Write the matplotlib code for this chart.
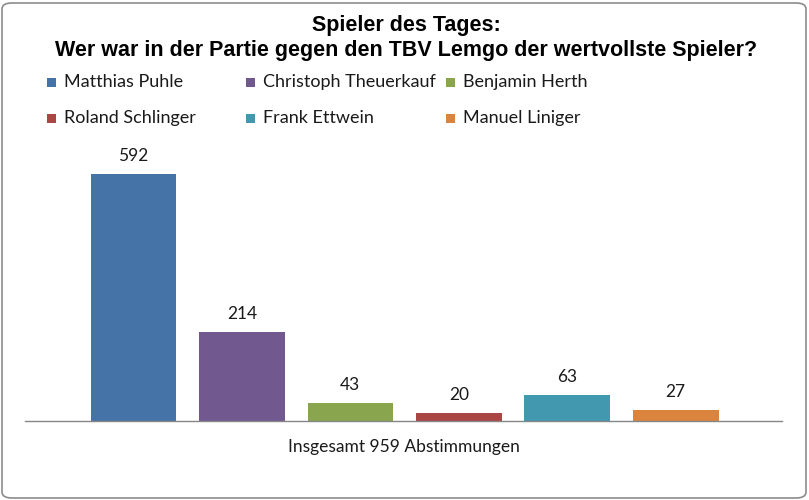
import matplotlib
matplotlib.use('Agg')
import matplotlib.pyplot as plt
from matplotlib.patches import FancyBboxPatch, Rectangle

# data
spieler = ['Matthias Puhle', 'Christoph Theuerkauf', 'Benjamin Herth',
           'Roland Schlinger', 'Frank Ettwein', 'Manuel Liniger']
stimmen = [592, 214, 43, 20, 63, 27]
farben = ['#4572A7', '#71588F', '#89A54E', '#AA4643', '#4198AF', '#DB843D']
titel = 'Spieler des Tages:\nWer war in der Partie gegen den TBV Lemgo der wertvollste Spieler?'
x_label = 'Insgesamt 959 Abstimmungen'

W, H = 809, 500
fig = plt.figure(figsize=(W / 100, H / 100), dpi=100)

# rounded grey frame like the excel chart area
frame = FancyBboxPatch((2 / W, 2 / H), (W - 5) / W, (H - 5) / H,
                       boxstyle='round,pad=0,rounding_size=0.012',
                       transform=fig.transFigure, facecolor='none',
                       edgecolor='#8c8c8c', linewidth=1.2, zorder=5)
fig.patches.append(frame)

# axes in pixel coordinates: left 25, right 782, baseline 421
ax_l, ax_r, ax_b, ax_t = 25, 782, 421, 150
ax = fig.add_axes([ax_l / W, (H - ax_b) / H, (ax_r - ax_l) / W, (ax_b - ax_t) / H])
ax.patch.set_alpha(0)

pos = list(range(len(spieler)))
bars = ax.bar(pos, stimmen, width=0.79, color=farben)
for b, v in zip(bars, stimmen):
    ax.text(b.get_x() + b.get_width() / 2, v + 24, str(v), ha='center', va='bottom',
            fontsize=12.5, family='Lato', color='#1a1a1a')

ax.set_xlim(-1.0, 5.98)
ax.set_ylim(0, (ax_b - ax_t) / 0.417)
for s in ['top', 'right', 'left']:
    ax.spines[s].set_visible(False)
ax.spines['bottom'].set_color('#868686')
ax.spines['bottom'].set_linewidth(1.0)
ax.set_xticks([])
ax.set_yticks([])

fig.text(0.5 * (ax_l + ax_r) / W, 1 - 447 / H, x_label, ha='center', va='center',
         fontsize=12.5, family='Lato', color='#1a1a1a')

fig.text(406 / W, 1 - 38 / H, titel, ha='center', va='center', fontsize=15.5,
         fontweight='bold', family='Liberation Sans', linespacing=1.22)

# legend, 3 columns x 2 rows
spalten_x = [47, 246, 446]
zeilen_y = [82, 118]
for i, (name, c) in enumerate(zip(spieler, farben)):
    px = spalten_x[i % 3]
    py = zeilen_y[i // 3]
    fig.patches.append(Rectangle((px / W, 1 - (py + 5) / H), 9 / W, 9 / H,
                                 transform=fig.transFigure, facecolor=c,
                                 edgecolor='none'))
    fig.text((px + 17) / W, 1 - py / H, name, ha='left', va='center',
             fontsize=13, family='Lato', color='#1a1a1a')

fig.savefig('out.png', dpi=100)
